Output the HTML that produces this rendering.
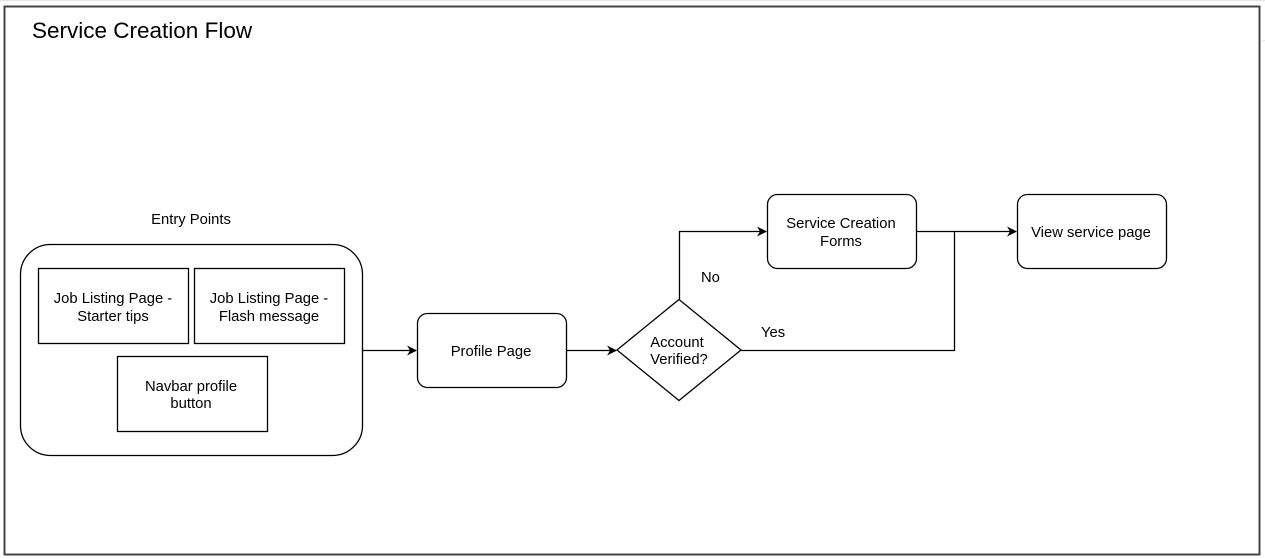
<!DOCTYPE html>
<html><head><style>
html,body{margin:0;padding:0;background:#fff;}
svg{display:block;font-family:"Liberation Sans",Arial,sans-serif;}
</style></head><body>
<svg width="1265" height="559" viewBox="0 0 1265 559" xmlns="http://www.w3.org/2000/svg">
<defs>
<marker id="a" markerWidth="10" markerHeight="10" refX="9" refY="5" orient="auto" markerUnits="userSpaceOnUse">
<path d="M0,0 L10,5 L0,10 L3,5 Z" fill="#000"/>
</marker>
</defs>
<g stroke="#e6e6e6" stroke-width="1">
<line x1="0" y1="0.5" x2="1265" y2="0.5"/>
<line x1="1262" y1="40.5" x2="1265" y2="40.5"/>
</g>
<rect x="4.5" y="6.5" width="1255" height="548" fill="#fff" stroke="#444" stroke-width="2"/>
<text x="32" y="38" font-size="22.5" fill="#000">Service Creation Flow</text>

<g font-size="14.8" text-anchor="middle">
<text x="191" y="224">Entry Points</text>
<rect x="20.5" y="244.5" width="342" height="211" rx="30" fill="#fff" stroke="#000" stroke-width="1.3"/>
<rect x="38.5" y="268.5" width="150" height="75" fill="#fff" stroke="#000" stroke-width="1.3"/>
<text x="113" y="303">Job Listing Page -</text>
<text x="113" y="321">Starter tips</text>
<rect x="194.5" y="268.5" width="150" height="75" fill="#fff" stroke="#000" stroke-width="1.3"/>
<text x="269" y="303">Job Listing Page -</text>
<text x="269" y="321">Flash message</text>
<rect x="117.5" y="356.5" width="150" height="75" fill="#fff" stroke="#000" stroke-width="1.3"/>
<text x="191" y="391">Navbar profile</text>
<text x="191" y="408">button</text>

<rect x="417.5" y="313.5" width="149" height="74" rx="10" fill="#fff" stroke="#000" stroke-width="1.3"/>
<text x="491" y="356">Profile Page</text>

<path d="M679,299.5 L741,350 L679,400.5 L617,350 Z" fill="#fff" stroke="#000" stroke-width="1.3"/>
<text x="677" y="347">Account</text>
<text x="679" y="364">Verified?</text>

<rect x="767.5" y="194.5" width="149" height="74" rx="10" fill="#fff" stroke="#000" stroke-width="1.3"/>
<text x="841" y="228">Service Creation</text>
<text x="841" y="246">Forms</text>

<rect x="1017.5" y="194.5" width="149" height="74" rx="10" fill="#fff" stroke="#000" stroke-width="1.3"/>
<text x="1091" y="237">View service page</text>
</g>

<g stroke="#000" stroke-width="1.3" fill="none">
<line x1="363" y1="350.5" x2="416" y2="350.5" marker-end="url(#a)"/>
<line x1="567" y1="350.5" x2="616" y2="350.5" marker-end="url(#a)"/>
<polyline points="679.5,299 679.5,231.5 766,231.5" marker-end="url(#a)"/>
<polyline points="741,350.5 954.5,350.5 954.5,231.5"/>
<line x1="917" y1="231.5" x2="1016" y2="231.5" marker-end="url(#a)"/>
</g>
<text x="701" y="282" font-size="14.8">No</text>
<text x="761" y="337" font-size="14.8">Yes</text>
</svg>
</body></html>
